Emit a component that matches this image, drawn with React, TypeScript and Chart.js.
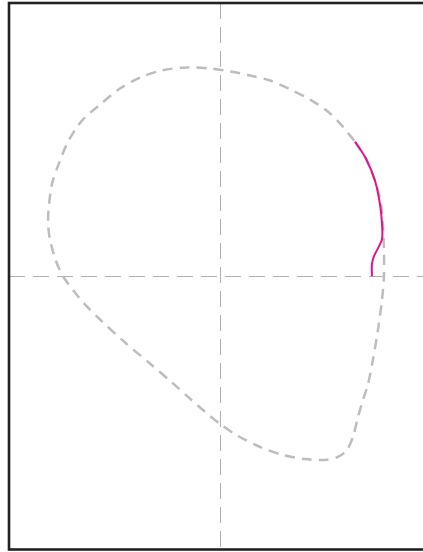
import React, { useEffect, useRef } from "react";
import { Chart, registerables } from "chart.js";

Chart.register(...registerables);

// Closed loop (gray dashed) — x, y in data units
const loopX = [0.640, 0.692, 0.735, 0.763, 0.773, 0.777, 0.777, 0.768, 0.749, 0.725, 0.701, 0.678, 0.654, 0.630, 0.602, 0.559, 0.498, 0.403, 0.299, 0.190, 0.085, 0.000, -0.071, -0.142, -0.227, -0.332, -0.450, -0.569, -0.640, -0.692, -0.744, -0.777, -0.806, -0.815, -0.810, -0.796, -0.768, -0.720, -0.654, -0.569, -0.474, -0.379, -0.275, -0.156, -0.047, 0.047, 0.142, 0.237, 0.332, 0.427, 0.512, 0.578, 0.640];
const loopY = [0.635, 0.555, 0.450, 0.341, 0.223, 0.118, 0.000, -0.109, -0.251, -0.393, -0.512, -0.583, -0.664, -0.758, -0.820, -0.853, -0.867, -0.863, -0.844, -0.806, -0.754, -0.697, -0.640, -0.578, -0.502, -0.412, -0.313, -0.204, -0.133, -0.071, 0.000, 0.071, 0.175, 0.256, 0.341, 0.436, 0.521, 0.635, 0.735, 0.810, 0.886, 0.938, 0.972, 0.986, 0.981, 0.967, 0.948, 0.924, 0.882, 0.834, 0.777, 0.711, 0.635];

// Highlighted segment (magenta)
const segX = [0.640, 0.692, 0.735, 0.758, 0.768, 0.768, 0.749, 0.730, 0.720, 0.720];
const segY = [0.635, 0.555, 0.450, 0.341, 0.246, 0.175, 0.133, 0.095, 0.057, 0.000];

const xRange = [-1, 1];
const yRange = [-1.29, 1.29];

const toPts = (xs: number[], ys: number[]) => xs.map((x, i) => ({ x, y: ys[i] }));

const framePlugin = {
  id: "frame",
  afterDraw(chart: any) {
    const { ctx, chartArea } = chart;
    ctx.save();
    ctx.strokeStyle = "#222";
    ctx.lineWidth = 2.6;
    ctx.strokeRect(chartArea.left, chartArea.top, chartArea.right - chartArea.left, chartArea.bottom - chartArea.top);
    ctx.restore();
  },
};

export default function App() {
  const ref = useRef<HTMLCanvasElement | null>(null);
  useEffect(() => {
    if (!ref.current) return;
    const zeroGrid = {
      color: (c: any) => (c.tick && c.tick.value === 0 ? "#b0b0b0" : "rgba(0,0,0,0)"),
      lineWidth: 1,
      drawTicks: false,
    };
    const chart = new Chart(ref.current, {
      type: "scatter",
      data: {
        datasets: [
          {
            data: toPts(segX, segY),
            showLine: true,
            borderColor: "#e2128b",
            borderWidth: 2,
            pointRadius: 0,
            tension: 0.3,
            fill: false,
            order: 1,
          },
          {
            data: toPts(loopX, loopY),
            showLine: true,
            borderColor: "#bdbdbd",
            borderWidth: 2.5,
            borderDash: [10, 7],
            pointRadius: 0,
            tension: 0.3,
            fill: false,
            order: 2,
          },
        ],
      },
      options: {
        responsive: false,
        animation: false,
        layout: { padding: { left: 9, top: 3, right: 9, bottom: 2.5 } },
        plugins: { legend: { display: false }, tooltip: { enabled: false } },
        scales: {
          x: {
            type: "linear",
            min: xRange[0],
            max: xRange[1],
            ticks: { display: false, stepSize: 1 },
            grid: zeroGrid,
            border: { display: false, dash: [16, 8] },
          },
          y: {
            type: "linear",
            min: yRange[0],
            max: yRange[1],
            ticks: { display: false, stepSize: 1.29 },
            grid: zeroGrid,
            border: { display: false, dash: [16, 8] },
          },
        },
      },
      plugins: [framePlugin],
    });
    return () => chart.destroy();
  }, []);
  return (
    <div style={{ position: "fixed", left: 0, top: 0, width: 423, height: 552, overflow: "hidden", background: "#fff" }}>
      <canvas ref={ref} width={440} height={552} style={{ display: "block" }} />
    </div>
  );
}
